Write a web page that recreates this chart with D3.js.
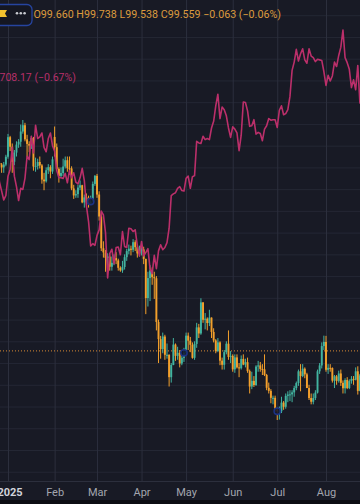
<!DOCTYPE html>
<html>
<head>
<meta charset="utf-8">
<script src="https://cdn.jsdelivr.net/npm/d3@7"></script>
<style>
  html, body { margin: 0; padding: 0; background: #181a25; }
  svg { display: block; font-family: Roboto, "Noto Sans", sans-serif; }
</style>
</head>
<body>
<div id="chart"></div>
<script>
"use strict";

// trading days shown (DXY daily bars, Good Friday has no bar)
var dates = [
  "2024-12-23","2024-12-24","2024-12-26","2024-12-27","2024-12-30","2024-12-31",
  "2025-01-02","2025-01-03","2025-01-06","2025-01-07","2025-01-08","2025-01-09","2025-01-10","2025-01-13","2025-01-14","2025-01-15","2025-01-16",
  "2025-01-17","2025-01-20","2025-01-21","2025-01-22","2025-01-23","2025-01-24","2025-01-27","2025-01-28","2025-01-29","2025-01-30","2025-01-31",
  "2025-02-03","2025-02-04","2025-02-05","2025-02-06","2025-02-07","2025-02-10","2025-02-11","2025-02-12","2025-02-13","2025-02-14",
  "2025-02-17","2025-02-18","2025-02-19","2025-02-20","2025-02-21","2025-02-24","2025-02-25","2025-02-26","2025-02-27","2025-02-28",
  "2025-03-03","2025-03-04","2025-03-05","2025-03-06","2025-03-07","2025-03-10","2025-03-11","2025-03-12","2025-03-13","2025-03-14","2025-03-17",
  "2025-03-18","2025-03-19","2025-03-20","2025-03-21","2025-03-24","2025-03-25","2025-03-26","2025-03-27","2025-03-28","2025-03-31",
  "2025-04-01","2025-04-02","2025-04-03","2025-04-04","2025-04-07","2025-04-08","2025-04-09","2025-04-10","2025-04-11","2025-04-14","2025-04-15",
  "2025-04-16","2025-04-17","2025-04-21","2025-04-22","2025-04-23","2025-04-24","2025-04-25","2025-04-28","2025-04-29","2025-04-30",
  "2025-05-01","2025-05-02","2025-05-05","2025-05-06","2025-05-07","2025-05-08","2025-05-09","2025-05-12","2025-05-13","2025-05-14","2025-05-15",
  "2025-05-16","2025-05-19","2025-05-20","2025-05-21","2025-05-22","2025-05-23","2025-05-26","2025-05-27","2025-05-28","2025-05-29","2025-05-30",
  "2025-06-02","2025-06-03","2025-06-04","2025-06-05","2025-06-06","2025-06-09","2025-06-10","2025-06-11","2025-06-12","2025-06-13","2025-06-16",
  "2025-06-17","2025-06-18","2025-06-19","2025-06-20","2025-06-23","2025-06-24","2025-06-25","2025-06-26","2025-06-27","2025-06-30",
  "2025-07-01","2025-07-02","2025-07-03","2025-07-04","2025-07-07","2025-07-08","2025-07-09","2025-07-10","2025-07-11","2025-07-14","2025-07-15",
  "2025-07-16","2025-07-17","2025-07-18","2025-07-21","2025-07-22","2025-07-23","2025-07-24","2025-07-25","2025-07-28","2025-07-29","2025-07-30","2025-07-31",
  "2025-08-01","2025-08-04","2025-08-05","2025-08-06","2025-08-07","2025-08-08","2025-08-11","2025-08-12","2025-08-13","2025-08-14","2025-08-15",
  "2025-08-18","2025-08-19","2025-08-20","2025-08-21","2025-08-22","2025-08-25","2025-08-26"
];

// DXY candles
var open = [
  107.80,108.04,108.20,108.13,108.00,108.13,
  108.49,109.39,108.95,108.26,108.68,109.05,109.18,109.65,109.94,109.29,109.08,109.00,109.35,108.04,108.06,108.25,108.09,107.44,107.36,107.87,108.01,107.81,
  109.40,108.93,107.93,107.61,107.74,108.04,108.33,107.96,107.95,107.03,106.71,106.77,107.07,107.18,106.39,106.62,106.60,106.31,106.43,107.24,
  107.61,106.75,105.74,104.28,104.09,103.84,103.90,103.43,103.61,103.83,103.72,103.38,103.26,103.42,103.87,104.15,104.26,104.21,104.56,104.33,104.04,
  104.21,104.23,103.79,101.99,102.91,103.26,102.95,102.90,100.89,100.10,99.64,100.22,99.38,99.38,98.35,98.91,99.85,99.33,99.47,98.98,99.24,
  99.47,100.26,100.03,99.84,99.24,99.88,100.64,100.36,101.79,100.99,101.04,100.84,101.09,100.43,100.04,99.55,99.95,99.11,98.92,99.50,99.89,99.28,
  99.33,98.71,99.26,98.80,98.76,99.19,98.93,99.04,98.63,97.92,98.18,97.99,98.84,98.89,98.73,98.71,98.45,97.86,97.72,97.40,97.40,
  96.88,96.78,96.78,97.18,96.99,97.49,97.55,97.56,97.65,97.85,98.08,98.62,98.40,98.74,98.48,97.85,97.39,97.22,97.39,97.64,98.62,98.89,99.78,
  99.97,98.69,98.78,98.77,98.19,98.39,98.18,98.52,98.09,97.84,98.22,97.85,98.17,98.27,98.23,98.62,97.72,98.43
];
var high = [
  108.20,108.30,108.30,108.20,108.25,108.58,
  109.54,109.45,109.10,108.80,109.20,109.30,109.97,110.18,110.05,109.50,109.20,109.45,109.40,108.45,108.40,108.50,108.15,107.75,108.00,108.15,108.10,108.50,
  109.88,109.10,108.00,108.00,108.40,108.50,108.50,108.50,108.05,107.20,106.95,107.20,107.40,107.20,106.75,106.80,106.70,106.70,107.35,107.65,
  107.70,106.90,105.85,104.60,104.20,104.05,104.00,103.90,104.00,104.10,103.80,103.45,103.70,104.00,104.25,104.45,104.40,104.70,104.65,104.40,104.40,
  104.40,104.35,103.80,103.20,103.50,103.40,103.20,103.00,101.00,100.25,100.40,100.30,99.90,99.40,99.00,100.15,99.90,99.75,99.60,99.35,99.70,
  100.40,100.40,100.20,99.95,100.00,100.85,100.80,101.98,101.80,101.30,101.10,101.45,101.10,100.60,100.10,100.15,100.00,99.25,99.60,100.00,100.50,99.55,
  99.40,99.40,99.40,99.00,99.35,99.40,99.20,99.25,98.70,98.60,98.40,98.90,99.10,99.05,98.95,99.40,98.50,98.10,97.80,97.50,97.50,
  96.95,97.00,97.45,97.25,97.60,97.70,97.75,97.75,97.95,98.15,98.70,98.95,98.95,98.80,98.55,98.00,97.60,97.60,97.75,98.70,99.00,99.95,100.26,
  100.25,98.95,98.95,98.80,98.45,98.45,98.65,98.70,98.20,98.30,98.35,98.25,98.40,98.40,98.80,98.85,98.50,98.50
];
var low = [
  107.60,107.95,107.90,107.75,107.75,108.05,
  108.40,108.75,107.75,108.10,108.50,108.90,108.95,109.55,109.20,108.50,108.70,108.85,107.85,107.80,107.90,107.95,107.25,106.95,107.30,107.70,107.50,107.70,
  108.50,107.85,107.30,107.55,107.60,107.95,107.80,107.70,106.95,106.55,106.60,106.60,106.95,106.35,106.15,106.30,106.15,106.30,106.40,107.15,
  106.60,105.55,104.15,103.85,103.20,103.45,103.25,103.25,103.50,103.55,103.25,103.20,103.15,103.30,103.70,104.00,103.95,104.10,104.15,103.85,103.90,
  103.95,103.55,101.25,101.60,101.85,102.60,101.95,100.50,99.00,99.20,99.45,99.15,99.20,97.92,98.10,98.90,99.10,99.15,98.80,98.90,99.05,
  99.40,99.60,99.50,99.20,99.15,99.70,100.15,100.30,100.85,100.55,100.50,100.70,100.15,99.95,99.45,99.50,98.90,98.70,98.70,99.40,99.15,99.00,
  98.60,98.55,98.75,98.35,98.70,98.90,98.80,98.55,97.60,97.80,97.90,97.95,98.60,98.60,98.45,98.40,97.75,97.60,97.15,97.10,96.75,
  96.38,96.40,96.70,96.85,96.90,97.20,97.25,97.20,97.45,97.75,97.95,97.70,98.35,98.30,97.85,97.30,97.10,97.10,97.30,97.60,98.50,98.75,99.60,
  98.60,98.50,98.60,98.10,97.85,98.00,98.10,97.95,97.60,97.60,97.80,97.80,98.05,98.00,98.20,97.55,97.70,98.00
];
var close = [
  108.04,108.26,108.13,108.00,108.13,108.49,
  109.39,108.95,108.26,108.68,109.05,109.18,109.65,109.94,109.29,109.08,109.00,109.35,108.04,108.06,108.25,108.09,107.44,107.36,107.87,108.01,107.81,108.37,
  108.93,107.93,107.61,107.74,108.04,108.33,107.96,107.95,107.03,106.71,106.77,107.07,107.18,106.39,106.62,106.60,106.31,106.43,107.24,107.61,
  106.75,105.74,104.28,104.09,103.84,103.90,103.43,103.61,103.83,103.72,103.38,103.26,103.42,103.87,104.15,104.26,104.21,104.56,104.33,104.04,104.21,
  104.23,103.79,101.99,102.91,103.26,102.95,102.90,100.89,100.10,99.64,100.22,99.38,99.38,98.35,98.91,99.85,99.33,99.47,98.98,99.24,99.47,
  100.26,100.03,99.84,99.24,99.88,100.64,100.36,101.79,100.99,101.04,100.84,101.09,100.43,100.04,99.55,99.95,99.11,98.92,99.50,99.89,99.28,99.33,
  98.71,99.26,98.80,98.76,99.19,98.93,99.04,98.63,97.92,98.18,97.99,98.84,98.89,98.73,98.71,98.45,97.86,97.72,97.40,97.40,96.88,
  96.78,96.78,97.18,96.99,97.49,97.55,97.56,97.65,97.85,98.08,98.62,98.40,98.74,98.48,97.85,97.39,97.22,97.39,97.64,98.62,98.89,99.78,99.97,
  98.69,98.78,98.77,98.19,98.39,98.18,98.52,98.09,97.84,98.22,97.85,98.17,98.27,98.23,98.62,97.72,98.43,98.22
];

// compared symbol (BTCUSD close, thousands)
var btc = [
  94.7,98.6,95.8,94.2,92.6,93.4,
  96.9,98.1,102.1,96.9,95.0,92.5,94.7,94.5,96.5,100.5,99.9,104.1,101.1,106.1,103.7,104.0,104.7,102.1,101.3,103.7,104.7,102.4,
  101.4,97.9,96.6,96.6,96.5,97.4,95.7,97.9,96.6,97.5,95.8,95.5,96.6,98.3,96.1,91.5,88.7,84.3,84.7,84.4,
  86.2,87.2,90.6,89.9,86.7,78.5,82.9,83.7,81.1,84.0,84.1,82.7,86.9,84.2,84.0,87.5,87.4,86.9,87.2,84.4,82.5,
  85.1,82.5,83.1,83.8,80.2,79.3,82.6,80.2,83.4,84.5,83.6,84.0,84.9,87.5,93.4,93.7,93.9,94.7,95.0,94.3,94.2,
  96.5,96.9,94.7,96.8,97.0,103.2,102.9,102.8,104.1,103.5,103.7,103.5,105.6,106.8,109.6,111.7,107.3,109.4,108.9,107.8,105.6,103.9,
  105.8,105.4,104.7,101.5,104.3,110.3,110.2,108.7,105.9,106.0,107.1,104.5,104.8,104.6,103.3,105.4,106.0,107.3,107.0,107.1,107.1,
  105.7,108.8,109.6,108.0,108.2,108.9,111.3,116.0,117.5,119.8,117.7,119.0,119.9,117.9,117.3,119.9,118.6,118.3,117.6,118.0,117.9,117.8,115.8,
  113.3,115.1,114.1,115.0,117.5,116.7,118.7,120.2,123.3,118.3,117.4,116.2,112.9,114.3,112.5,116.9,110.1,110.2
];

var monthLabels = ["2025", "Feb", "Mar", "Apr", "May", "Jun", "Jul", "Aug"];
var gridValues = [94, 95, 96, 97, 98, 99, 100, 101, 102, 103, 104, 105, 106, 107, 108, 109, 110, 111, 112, 113, 114, 115];
var lastPrice = 99.559;
var markerDates = ["2025-02-26", "2025-04-30", "2025-07-01"];
var headerText = "O99.660 H99.738 L99.538 C99.559 \u22120.063 (\u22120.06%)";
var compareText = "708.17 (\u22120.67%)";

var width = 360, height = 504, plotBottom = 481;
var upColor = "#42b4a0", downColor = "#f3a02c", lineColor = "#bb2f6a";

var parse = d3.timeParse("%Y-%m-%d");
var bars = dates.map(function (d, i) {
  return { date: parse(d), key: d, i: i, o: open[i], h: high[i], l: low[i], c: close[i], cmp: btc[i] };
});

var svg = d3.select("#chart").append("svg")
    .attr("width", width)
    .attr("height", height);

svg.append("rect").attr("width", width).attr("height", height).attr("fill", "#181a25");
svg.append("rect").attr("y", 500).attr("width", width).attr("height", 4).attr("fill", "#0c0d12");

svg.append("clipPath").attr("id", "plotclip")
  .append("rect").attr("width", width).attr("height", plotBottom);

// bar index -> pixel
var x = d3.scaleLinear()
    .domain([dates.indexOf("2025-01-02"), dates.indexOf("2025-08-01")])
    .range([8, 326]);
var y = d3.scaleLinear().domain([93.574, 115.70]).range([plotBottom, 0]);
var yCmp = d3.scaleLinear().domain([41.83, 128.72]).range([plotBottom, 0]);

// first bar of every month
var monthStarts = bars.filter(function (b, i) {
  return i > 0 && b.date.getMonth() !== bars[i - 1].date.getMonth();
}).map(function (b) { return b.i; });

// horizontal grid
var yGrid = svg.append("g")
    .call(d3.axisLeft(y).tickValues(gridValues).tickSize(-width).tickFormat(""));
yGrid.select(".domain").remove();
yGrid.selectAll("line").attr("stroke", "#242734");

// vertical grid + month labels
var xAxis = svg.append("g")
    .attr("transform", "translate(0," + plotBottom + ")")
    .call(d3.axisBottom(x).tickValues(monthStarts).tickSize(-plotBottom).tickPadding(7)
      .tickFormat(function (d, k) { return monthLabels[k]; }));
xAxis.select(".domain").remove();
xAxis.selectAll("line").attr("stroke", "#2c2f3d");
xAxis.selectAll("text")
    .attr("fill", function (d, k) { return k === 0 ? "#d1d4dc" : "#a3a6af"; })
    .attr("font-weight", function (d, k) { return k === 0 ? "bold" : "normal"; })
    .attr("dx", function (d, k) { return k === 0 ? 1.5 : 0; })
    .style("font-size", "11px")
    .style("font-family", "Roboto, sans-serif");

svg.append("line")
    .attr("x1", 0).attr("x2", width)
    .attr("y1", plotBottom + 0.5).attr("y2", plotBottom + 0.5)
    .attr("stroke", "#2c2f3d");

var plot = svg.append("g").attr("clip-path", "url(#plotclip)");

// last price line
plot.append("line")
    .attr("x1", 0).attr("x2", width)
    .attr("y1", y(lastPrice)).attr("y2", y(lastPrice))
    .attr("stroke", "#d98a35")
    .attr("stroke-width", 1)
    .attr("stroke-dasharray", "1,2");

// candles
var bw = (x(1) - x(0)) * 0.9;
function candleColor(d) { return d.c >= d.o ? upColor : downColor; }

plot.selectAll(".wick").data(bars).enter().append("line")
    .attr("class", "wick")
    .attr("x1", function (d) { return x(d.i); })
    .attr("x2", function (d) { return x(d.i); })
    .attr("y1", function (d) { return y(d.h); })
    .attr("y2", function (d) { return y(d.l); })
    .attr("stroke", candleColor)
    .attr("stroke-width", 1);

plot.selectAll(".body").data(bars).enter().append("rect")
    .attr("class", "body")
    .attr("x", function (d) { return x(d.i) - bw / 2; })
    .attr("y", function (d) { return y(Math.max(d.o, d.c)); })
    .attr("width", bw)
    .attr("height", function (d) { return Math.max(1, Math.abs(y(d.o) - y(d.c))); })
    .attr("fill", candleColor);

// compared symbol line
plot.append("path")
    .datum(bars)
    .attr("fill", "none")
    .attr("stroke", lineColor)
    .attr("stroke-width", 1.6)
    .attr("stroke-linejoin", "round")
    .attr("d", d3.line()
      .x(function (d) { return x(d.i); })
      .y(function (d) { return yCmp(d.cmp); }));

// event markers
plot.selectAll(".marker")
    .data(bars.filter(function (b) { return markerDates.indexOf(b.key) >= 0; }))
    .enter().append("circle")
    .attr("class", "marker")
    .attr("cx", function (d) { return x(d.i); })
    .attr("cy", function (d) { return y(d.c); })
    .attr("r", 3.2)
    .attr("fill", "#10142c")
    .attr("fill-opacity", 0.85)
    .attr("stroke", "#1c3283")
    .attr("stroke-width", 1.5);

// legend header
var head = svg.append("g");
head.append("rect")
    .attr("x", -6).attr("y", 4.5)
    .attr("width", 38).attr("height", 21)
    .attr("rx", 5)
    .attr("fill", "#151722")
    .attr("stroke", "#26449f")
    .attr("stroke-width", 1.3);
head.append("path")
    .attr("d", "M-1,10 L7,10 L5,13.5 L7,17 L-1,17 Z")
    .attr("fill", "#f2c12e");
head.selectAll(".dot").data([17, 20.8, 24.6]).enter().append("circle")
    .attr("cx", function (d) { return d; })
    .attr("cy", 13.2)
    .attr("r", 1.3)
    .attr("fill", "#c9cbd1");
head.append("text")
    .attr("x", 33.5).attr("y", 18)
    .attr("fill", "#dc9a3e")
    .style("font-size", "10.7px")
    .text(headerText);
head.append("text")
    .attr("x", -0.5).attr("y", 80.5)
    .attr("fill", "#b8306a")
    .style("font-size", "10.5px")
    .text(compareText);
</script>
</body>
</html>
